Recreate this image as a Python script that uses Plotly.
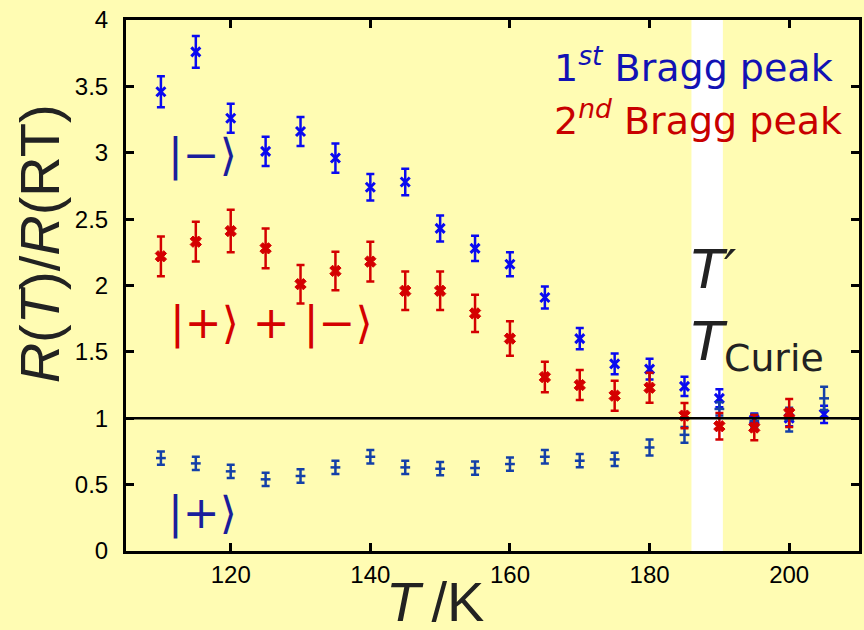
import plotly.graph_objects as go

# Temperatures (K)
T = [110, 115, 120, 125, 130, 135, 140, 145, 150, 155, 160, 165, 170, 175, 180, 185, 190, 195, 200, 205]

# 1st Bragg peak |->
blue_y = [3.46, 3.76, 3.26, 3.01, 3.16, 2.96, 2.74, 2.78, 2.43, 2.28, 2.16, 1.91, 1.60, 1.41, 1.37, 1.24, 1.15, 0.99, 1.00, 1.03]
blue_err = [0.117, 0.12, 0.11, 0.11, 0.11, 0.11, 0.10, 0.10, 0.098, 0.095, 0.09, 0.083, 0.08, 0.078, 0.078, 0.072, 0.068, 0.045, 0.06, 0.065]

# 1st Bragg peak |+>
plus_y = [0.70, 0.66, 0.60, 0.54, 0.565, 0.63, 0.71, 0.63, 0.62, 0.625, 0.655, 0.71, 0.68, 0.69, 0.78, 0.875, 1.07, 0.98, 0.99, 1.15]
plus_err = [0.05, 0.05, 0.05, 0.05, 0.05, 0.05, 0.05, 0.05, 0.05, 0.05, 0.05, 0.05, 0.05, 0.05, 0.06, 0.06, 0.05, 0.05, 0.09, 0.087]

# 2nd Bragg peak |+> + |->
T_red = [110, 115, 120, 125, 130, 135, 140, 145, 150, 155, 160, 165, 170, 175, 180, 185, 190, 195, 200]
red_y = [2.22, 2.33, 2.41, 2.28, 2.01, 2.11, 2.18, 1.96, 1.96, 1.79, 1.60, 1.31, 1.25, 1.17, 1.23, 1.02, 0.94, 0.93, 1.04]
red_err = [0.15, 0.15, 0.16, 0.15, 0.145, 0.145, 0.15, 0.145, 0.145, 0.14, 0.13, 0.115, 0.113, 0.113, 0.113, 0.095, 0.10, 0.095, 0.105]

T_curie_band = [186, 190.5]
ref_level = 1

BG = "#fffcb3"
BLUE = "#0a0af0"
DBLUE = "#1440a8"
RED = "#d40000"
NAVY = "#1a1e9c"

fig = go.Figure()

fig.add_trace(go.Scatter(
    x=T, y=blue_y, mode="markers",
    error_y=dict(type="data", array=blue_err, color=BLUE, thickness=2.5, width=4),
    marker=dict(symbol="x-thin", size=9, color=BLUE, line=dict(width=3, color=BLUE)),
    showlegend=False))

fig.add_trace(go.Scatter(
    x=T, y=plus_y, mode="markers",
    error_y=dict(type="data", array=plus_err, color=DBLUE, thickness=2.5, width=4),
    marker=dict(symbol="line-ew", size=7, color=DBLUE, line=dict(width=2.5, color=DBLUE)),
    showlegend=False))

fig.add_trace(go.Scatter(
    x=T_red, y=red_y, mode="markers",
    error_y=dict(type="data", array=red_err, color=RED, thickness=2.5, width=4),
    marker=dict(symbol="x", size=10, color=RED, line=dict(width=1, color=RED)),
    showlegend=False))

fig.add_shape(type="rect", x0=T_curie_band[0], x1=T_curie_band[1], y0=0, y1=4,
              xref="x", yref="y", fillcolor="white", line=dict(width=0), layer="below")
fig.add_shape(type="line", x0=0, x1=1, xref="paper", y0=ref_level, y1=ref_level, yref="y",
              line=dict(color="black", width=2.5))

ann_font = "DejaVu Sans"
anns = [
    dict(x=116, y=2.98, text="|−⟩", font=dict(size=44, color=NAVY, family=ann_font)),
    dict(x=125.9, y=1.72, text="|+⟩ + |−⟩", font=dict(size=44, color=RED, family=ann_font)),
    dict(x=115.9, y=0.29, text="|+⟩", font=dict(size=44, color=NAVY, family=ann_font)),
    dict(x=185.6, y=2.12, text="<i>T′</i>", xanchor="left",
         font=dict(size=54, color="#222222", family=ann_font)),
    dict(x=185.6, y=1.55, text="<i>T</i><sub>Curie</sub>", xanchor="left",
         font=dict(size=54, color="#222222", family=ann_font)),
    dict(x=166, y=3.66, text="1<sup><i>st</i></sup> Bragg peak", xanchor="left",
         font=dict(size=38, color="#1212b4", family=ann_font)),
    dict(x=166, y=3.26, text="2<sup><i>nd</i></sup> Bragg peak", xanchor="left",
         font=dict(size=38, color="#c80000", family=ann_font)),
    dict(x=(436 - 126) / 736, y=(551 - 601) / 531, xref="paper", yref="paper",
         text="<i>T</i>\u2009/K", font=dict(size=56, color="#222222", family="Liberation Sans")),
    dict(x=(40 - 126) / 736, y=(551 - 244) / 531, xref="paper", yref="paper", textangle=-90,
         text="<i>R</i>(<i>T</i>)/<i>R</i>(RT)", font=dict(size=56, color="#222222", family="Liberation Sans")),
]
for a in anns:
    a.setdefault("xref", "x")
    a.setdefault("yref", "y")
    a.setdefault("xanchor", "center")
    a.setdefault("yanchor", "middle")
    a["showarrow"] = False
    fig.add_annotation(**a)

axis_common = dict(showline=True, linewidth=3, linecolor="black", mirror="ticks",
                   ticks="inside", ticklen=8, tickwidth=2.5, tickcolor="black",
                   showgrid=False, zeroline=False,
                   tickfont=dict(family="Liberation Sans", size=24, color="black"))

fig.update_xaxes(range=[105, 210], tick0=0, dtick=20, **axis_common)
fig.update_yaxes(range=[0, 4], tick0=0, dtick=0.5, ticklabelstandoff=10, **axis_common)

fig.update_layout(width=864, height=630, margin=dict(l=126, r=2, t=20, b=79),
                  paper_bgcolor=BG, plot_bgcolor=BG, showlegend=False)

fig.write_html("out.html")
